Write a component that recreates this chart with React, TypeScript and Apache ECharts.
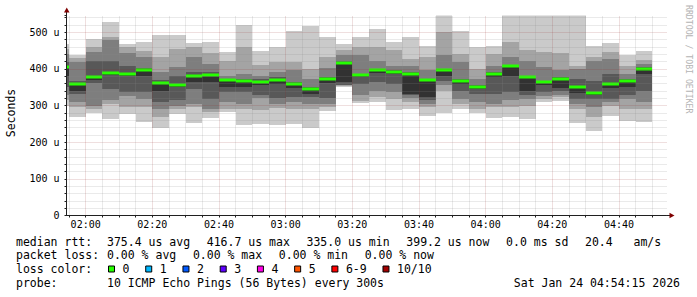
import React, { useEffect, useRef } from "react";
import * as echarts from "echarts";

// ---------- data ----------
// end time of each 5-minute step (the first one is only partly visible)
const endTimes = [
  "01:55", "02:00", "02:05", "02:10", "02:15", "02:20", "02:25", "02:30", "02:35",
  "02:40", "02:45", "02:50", "02:55", "03:00", "03:05", "03:10", "03:15", "03:20",
  "03:25", "03:30", "03:35", "03:40", "03:45", "03:50", "03:55", "04:00", "04:05",
  "04:10", "04:15", "04:20", "04:25", "04:30", "04:35", "04:40", "04:45", "04:50",
];

// 10 sorted ping round-trip times per step (µs)
const pings: number[][] = [
  [300, 315, 330, 350, 380, 405, 420, 440, 455, 469],
  [270, 296, 309, 332, 341, 359, 366, 418, 430, 437],
  [279, 292, 298, 362, 370, 377, 423, 446, 461, 482],
  [263, 305, 314, 346, 383, 388, 421, 478, 487, 529],
  [276, 297, 326, 336, 380, 386, 407, 443, 461, 468],
  [255, 297, 318, 336, 382, 397, 403, 434, 450, 473],
  [240, 268, 290, 310, 341, 361, 370, 391, 432, 494],
  [276, 290, 300, 314, 350, 357, 380, 405, 455, 494],
  [252, 295, 305, 346, 364, 381, 392, 432, 461, 470],
  [265, 283, 290, 318, 364, 383, 391, 414, 443, 473],
  [283, 291, 310, 336, 350, 371, 373, 382, 423, 446],
  [246, 290, 305, 336, 350, 367, 373, 387, 459, 521],
  [249, 287, 321, 330, 355, 364, 372, 382, 412, 448],
  [246, 294, 305, 321, 360, 371, 377, 391, 418, 461],
  [249, 290, 309, 323, 348, 359, 364, 397, 418, 505],
  [240, 290, 305, 323, 332, 346, 350, 373, 400, 516],
  [284, 295, 305, 321, 363, 373, 377, 403, 434, 487],
  [350, 353, 355, 357, 364, 416.7, 421, 437, 452, 468],
  [307, 312, 330, 359, 377, 383, 387, 437, 459, 488],
  [309, 323, 341, 364, 390, 397, 400, 423, 459, 509],
  [289, 318, 336, 359, 385, 392, 396, 409, 452, 473],
  [291, 310, 321, 328, 332, 387, 391, 409, 428, 487],
  [273, 296, 305, 314, 323, 369, 373, 396, 432, 464],
  [281, 341, 355, 368, 382, 398, 400, 437, 500, 560],
  [292, 305, 318, 341, 358, 367, 373, 418, 441, 505],
  [279, 291, 310, 332, 345, 350, 355, 373, 400, 459],
  [265, 295, 305, 332, 378, 387, 391, 409, 441, 464],
  [268, 295, 314, 336, 382, 407, 410, 432, 473, 560],
  [264, 300, 318, 330, 341, 378, 382, 423, 452, 560],
  [309, 318, 327, 336, 355, 364, 368, 405, 446, 560],
  [312, 323, 330, 341, 348, 374, 377, 396, 443, 560],
  [252, 290, 305, 318, 334, 352, 373, 400, 409, 560],
  [232, 270, 295, 318, 330, 335, 368, 423, 432, 464],
  [273, 300, 310, 318, 347, 360, 387, 428, 446, 470],
  [257, 290, 318, 330, 350, 368, 373, 387, 409, 437],
  [255, 291, 310, 341, 385, 399.2, 405, 414, 425, 448],
];

// median rtt per step (µs)
const medians = [
  405, 359, 377, 388, 386, 397, 361, 357, 381, 383, 371, 367, 364, 371, 359, 346, 373, 416.7,
  383, 397, 392, 387, 369, 398, 367, 350, 387, 407, 378, 364, 374, 352, 335.0, 360, 368, 399.2,
];

const viewRange = ["01:54:15", "04:54:15"];
const stepMinutes = 5;
const xLabelTimes = ["02:00", "02:20", "02:40", "03:00", "03:20", "03:40", "04:00", "04:20", "04:40"];
const yLabelValues = [0, 100, 200, 300, 400, 500];
const yMax = 546;
const yMinorStep = 20;

const medianRttItems = ["375.4 us avg", "416.7 us max", "335.0 us min", "399.2 us now", "0.0 ms sd", "20.4   am/s"];
const packetLossItems = ["0.00 % avg", "0.00 % max", "0.00 % min", "0.00 % now"];
const lossLabels = ["0", "1", "2", "3", "4", "5", "6-9", "10/10"];
const lossColors = ["#26ff00", "#00b8ff", "#0059ff", "#5e00ff", "#ff00e6", "#ff5500", "#ff0000", "#a10000"];
const rowHeads = ["median rtt:", "packet loss:", "loss color:", "probe:"];
const probeText = "10 ICMP Echo Pings (56 Bytes) every 300s";
const dateText = "Sat Jan 24 04:54:15 2026";
const watermark = "RRDTOOL / TOBI OETIKER";
const yName = "Seconds";

// ---------- styles / layout ----------
const smokeShades = ["#cacaca", "#a4a4a4", "#7e7e7e", "#585858", "#323232", "#585858", "#7e7e7e", "#a4a4a4", "#cacaca"];
const medianColor = "#26ff00";
const MONO = "'DejaVu Sans Mono', monospace";
const AXIS_COLOR = "#202020";
const ARROW_COLOR = "#7f0000";
const MINOR = "rgba(140,140,140,0.36)";
const MAJOR = "rgba(150,40,40,0.3)";
const GRID = { left: 66.5, top: 15.5, width: 600, height: 200 };
const CH = 6.93;
const GAP = 16.6;
const HEAD_X = 16;
const VAL_X = 107;
const ROW_Y = [241.5, 255.2, 269, 282.7];

const toMin = (s: string) => {
  const [h, m, sec] = s.split(":").map(Number);
  return h * 60 + m + (sec || 0) / 60;
};
const pad = (n: number) => String(n).padStart(2, "0");
const fmtTime = (v: number) => `${pad(Math.floor(v / 60))}:${pad(Math.round(v % 60))}`;

function buildOption(): any {
  const data = endTimes.map((t, i) => [toMin(t) - stepMinutes, toMin(t), ...pings[i], medians[i]]);

  const renderItem = (params: any, api: any) => {
    const cs = params.coordSys;
    const clipBox = { x: cs.x, y: cs.y, width: cs.width, height: cs.height };
    const start = api.value(0);
    const end = api.value(1);
    const children: any[] = [];
    for (let j = 0; j < 9; j++) {
      const a = api.coord([start, api.value(2 + j)]);
      const b = api.coord([end, api.value(3 + j)]);
      const x0 = Math.round(a[0]);
      const x1 = Math.round(b[0]);
      const y0 = Math.round(a[1]);
      const y1 = Math.round(b[1]);
      const r = echarts.graphic.clipRectByRect({ x: x0, y: y1, width: x1 - x0, height: y0 - y1 }, clipBox);
      if (r && r.width > 0 && r.height > 0) {
        children.push({ type: "rect", shape: r, style: { fill: smokeShades[j] } });
      }
    }
    const m0 = api.coord([start, api.value(12)]);
    const m1 = api.coord([end, api.value(12)]);
    const my = Math.round(m0[1]);
    const mr = echarts.graphic.clipRectByRect(
      { x: Math.round(m0[0]), y: my - 1.5, width: Math.round(m1[0]) - Math.round(m0[0]), height: 3 },
      clipBox
    );
    if (mr && mr.width > 0) children.push({ type: "rect", shape: mr, style: { fill: medianColor } });
    return { type: "group", children };
  };

  const graphic: any[] = [];
  const txt = (x: number, y: number, text: string, extra: any = {}) => ({
    type: "text",
    x,
    y,
    silent: true,
    style: { text, fontFamily: MONO, fontSize: 11.5, fill: "#000", align: "left", verticalAlign: "middle", ...extra },
  });

  rowHeads.forEach((h, i) => graphic.push(txt(HEAD_X, ROW_Y[i], h)));
  let x = VAL_X;
  medianRttItems.forEach((s) => {
    graphic.push(txt(x, ROW_Y[0], s));
    x += s.length * CH + GAP;
  });
  x = VAL_X;
  packetLossItems.forEach((s) => {
    graphic.push(txt(x, ROW_Y[1], s));
    x += s.length * CH + GAP;
  });
  x = VAL_X + 1;
  lossLabels.forEach((s, i) => {
    graphic.push({
      type: "rect",
      silent: true,
      shape: { x: x + 0.5, y: ROW_Y[2] - 3, width: 6, height: 6 },
      style: { fill: lossColors[i], stroke: "#000", lineWidth: 1 },
    });
    graphic.push(txt(x + 14.5, ROW_Y[2], s));
    x += 14.5 + s.length * CH + 15.8;
  });
  graphic.push(txt(VAL_X, ROW_Y[3], probeText));
  graphic.push(txt(680, ROW_Y[3], dateText, { align: "right" }));

  graphic.push({
    type: "text",
    x: 10.5,
    y: 113,
    rotation: Math.PI / 2,
    silent: true,
    style: { text: yName, fontFamily: MONO, fontSize: 11.5, fill: "#000", align: "center", verticalAlign: "middle" },
  });
  graphic.push({
    type: "text",
    x: 688.5,
    y: 5,
    rotation: -Math.PI / 2,
    silent: true,
    style: { text: watermark, fontFamily: MONO, fontSize: 8.2, fill: "#b4b4b4", align: "left", verticalAlign: "middle" },
  });
  // axis extensions and arrows
  graphic.push({ type: "line", silent: true, shape: { x1: 66.5, y1: 15.5, x2: 66.5, y2: 12 }, style: { stroke: AXIS_COLOR, lineWidth: 1 } });
  graphic.push({ type: "line", silent: true, shape: { x1: 666.5, y1: 215.5, x2: 670, y2: 215.5 }, style: { stroke: AXIS_COLOR, lineWidth: 1 } });
  graphic.push({ type: "polygon", silent: true, shape: { points: [[64, 12.5], [69.5, 12.5], [66.75, 7.5]] }, style: { fill: ARROW_COLOR } });
  graphic.push({ type: "polygon", silent: true, shape: { points: [[669.5, 212.75], [669.5, 218.25], [674.5, 215.5]] }, style: { fill: ARROW_COLOR } });

  const tickMins = endTimes.map(toMin);
  const labelMins = xLabelTimes.map(toMin);

  return {
    animation: false,
    backgroundColor: "#ffffff",
    grid: { ...GRID, containLabel: false, outerBoundsMode: "none" },
    xAxis: {
      type: "value",
      min: toMin(viewRange[0]),
      max: toMin(viewRange[1]),
      z: 10,
      axisLine: { show: true, onZero: false, lineStyle: { color: AXIS_COLOR, width: 1 } },
      axisTick: { show: true, customValues: tickMins, length: 2, lineStyle: { color: AXIS_COLOR } },
      axisLabel: { show: true, customValues: labelMins, formatter: (v: number) => fmtTime(v), margin: 4, fontFamily: MONO, fontSize: 10, color: "#000" },
      splitLine: {
        show: true,
        showMinLine: true,
        showMaxLine: true,
        lineStyle: { color: [MINOR, MAJOR, MINOR, MINOR], type: [1, 1], dashOffset: 0.5, width: 1 },
      },
    },
    yAxis: {
      type: "value",
      min: 0,
      max: yMax,
      interval: yMinorStep,
      z: 10,
      axisLine: { show: true, lineStyle: { color: AXIS_COLOR, width: 1 } },
      axisTick: { show: true, length: 2, lineStyle: { color: AXIS_COLOR } },
      axisLabel: {
        show: true,
        customValues: yLabelValues,
        formatter: (v: number) => (v === 0 ? "0" : `${v} u`),
        margin: 7,
        fontFamily: MONO,
        fontSize: 10,
        color: "#000",
      },
      splitLine: {
        show: true,
        showMinLine: true,
        showMaxLine: false,
        lineStyle: { color: [MAJOR, MINOR, MINOR, MINOR, MINOR], type: [1, 1], dashOffset: 0.5, width: 1 },
      },
    },
    series: [
      {
        type: "custom",
        z: 2,
        renderItem,
        data,
        encode: { x: [0, 1], y: [2, 11] },
      },
    ],
    graphic,
  };
}

export default function App() {
  const ref = useRef<HTMLDivElement>(null);
  useEffect(() => {
    const el = ref.current;
    if (!el) return;
    const chart = echarts.init(el, null, { renderer: "svg" });
    chart.setOption(buildOption());
    return () => chart.dispose();
  }, []);
  return (
    <div
      ref={ref}
      style={{ position: "absolute", left: 0, top: 0, width: 697, height: 297, background: "#ffffff" }}
    />
  );
}
